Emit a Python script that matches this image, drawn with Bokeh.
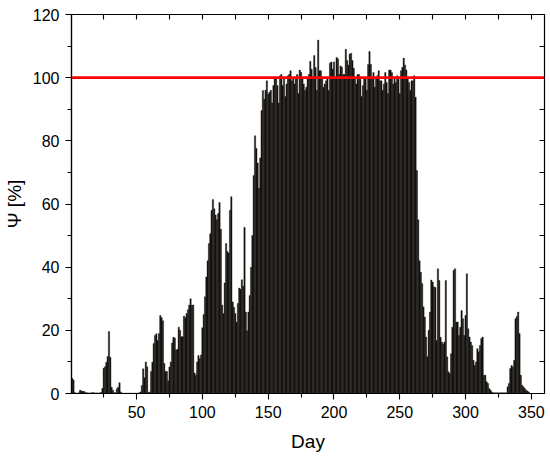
from bokeh.plotting import figure
from bokeh.models import Range1d, LinearAxis, Span, FixedTicker
from bokeh.embed import file_html
from bokeh.resources import INLINE

# Day-by-day values of Psi [%] (day 1 .. 365)
psi_days_1_60 = [
    4.8, 4.3, 0.3, 0.1, 0.1, 0.2, 1.0, 0.9, 0.6, 0.7,
    0.4, 0.2, 0.2, 0.1, 0.2, 0.2, 0.3, 0.2, 0.1, 0.2,
    0.1, 0.2, 0.3, 1.6, 8.0, 8.5, 9.9, 11.7, 19.6, 11.5,
    2.0, 1.0, 0.3, 0.2, 1.5, 2.0, 3.4, 0.5, 0.1, 0.1,
    0.1, 0.1, 0.1, 0.1, 0.1, 0.1, 0.1, 0.1, 0.1, 0.1,
    0.1, 0.2, 0.5, 2.5, 7.8, 5.0, 10.0, 8.5, 0.3, 0.5,
]
psi_days_61_120 = [
    7.0, 9.9, 15.8, 18.4, 18.9, 16.8, 19.0, 24.7, 24.0, 23.0,
    9.5, 7.0, 7.0, 4.0, 8.4, 10.0, 16.0, 17.8, 17.6, 13.8,
    14.0, 21.0, 20.0, 18.0, 18.0, 24.5, 24.0, 25.3, 26.5, 28.0,
    30.0, 28.0, 28.0, 6.5, 5.8, 10.0, 12.0, 11.0, 12.2, 20.8,
    25.0, 30.6, 36.9, 42.0, 47.5, 50.6, 58.0, 61.4, 58.5, 56.5,
    55.0, 57.0, 60.5, 52.0, 28.0, 25.3, 35.0, 47.5, 45.0, 44.5,
]
psi_days_121_180 = [
    58.0, 62.3, 29.0, 27.3, 25.3, 22.6, 28.5, 33.4, 33.0, 36.0,
    34.0, 52.6, 25.8, 19.9, 25.8, 31.0, 40.0, 50.0, 69.0, 81.6,
    77.6, 73.0, 65.0, 74.6, 89.6, 95.9, 93.2, 96.0, 99.0, 94.8,
    95.4, 96.0, 92.0, 97.5, 99.6, 99.6, 97.5, 92.0, 100.6, 101.0,
    97.5, 99.6, 94.0, 98.0, 100.6, 101.0, 102.2, 99.0, 99.6, 98.0,
    100.0, 101.0, 95.0, 102.4, 101.7, 99.6, 98.0, 96.0, 97.0, 99.6,
]
psi_days_181_240 = [
    101.0, 105.2, 102.7, 99.6, 107.0, 103.2, 96.0, 111.9, 102.2, 102.2,
    99.8, 97.0, 98.0, 99.0, 100.0, 96.0, 104.6, 105.0, 102.7, 105.0,
    100.0, 106.4, 106.0, 101.0, 103.7, 103.3, 101.0, 101.0, 109.0, 105.4,
    104.0, 107.5, 107.7, 105.4, 103.0, 100.0, 98.0, 101.0, 101.0, 99.5,
    94.0, 97.5, 100.0, 100.0, 96.0, 104.2, 108.3, 104.2, 99.5, 101.6,
    97.0, 100.0, 100.6, 102.2, 99.0, 99.0, 96.0, 98.0, 101.6, 98.5,
]
psi_days_241_300 = [
    95.0, 102.4, 102.4, 101.6, 98.0, 100.0, 98.5, 100.6, 99.5, 95.0,
    102.2, 103.2, 106.2, 104.0, 102.4, 100.0, 98.5, 96.0, 99.0, 99.0,
    100.6, 93.8, 70.6, 55.0, 42.0, 38.4, 34.8, 27.4, 24.2, 17.9,
    11.6, 20.0, 25.8, 35.9, 35.3, 33.8, 33.6, 16.8, 39.5, 35.8,
    17.8, 16.3, 15.6, 16.3, 35.8, 11.6, 6.9, 6.3, 12.6, 21.0,
    39.0, 39.5, 22.6, 22.6, 18.4, 21.0, 26.3, 23.7, 18.4, 24.7,
]
psi_days_301_365 = [
    37.9, 20.5, 17.9, 16.3, 15.2, 10.5, 8.9, 10.0, 14.2, 13.2,
    15.2, 17.4, 17.9, 5.8, 5.8, 3.7, 3.2, 1.6, 1.1, 0.5,
    0.2, 0.2, 0.2, 0.2, 0.2, 0.2, 0.2, 0.2, 0.2, 0.2,
    0.2, 2.1, 3.2, 7.9, 8.9, 8.4, 10.5, 23.7, 24.4, 25.8,
    19.0, 5.8, 2.6, 2.1, 1.6, 1.1, 0.8, 0.5, 0.0, 0.0,
    0.0, 0.0, 0.0, 0.0, 0.0, 0.0, 0.0, 0.0, 0.0, 0.0,
    0.0, 0.0, 0.0, 0.0, 0.0,
]
psi = (psi_days_1_60 + psi_days_61_120 + psi_days_121_180 +
       psi_days_181_240 + psi_days_241_300 + psi_days_301_365)
days = list(range(1, len(psi) + 1))

reference_level = 100
x_ticks = [50, 100, 150, 200, 250, 300, 350]
x_minor = [25, 75, 125, 175, 225, 275, 325]
y_ticks = [0, 20, 40, 60, 80, 100, 120]
y_minor = [10, 30, 50, 70, 90, 110]

FONT = "Liberation Sans"

p = figure(
    frame_width=473, frame_height=379,
    x_range=Range1d(0.5, 360), y_range=Range1d(0, 120),
    output_backend="svg", toolbar_location=None,
    min_border_left=68, min_border_right=8, min_border_top=14, min_border_bottom=58,
    background_fill_color="white", border_fill_color="white",
)
p.grid.visible = False
p.outline_line_color = "black"
p.outline_line_width = 1.2

p.vbar(x=days, top=psi, width=1.0, bottom=0,
       fill_color="#120f0c", line_color="#1c1815", line_width=0.4)

p.add_layout(Span(location=reference_level, dimension="width",
                  line_color="#ff0000", line_width=2.6))

def style_main(ax, ticks, minor):
    ax.ticker = FixedTicker(ticks=ticks, minor_ticks=minor)
    ax.axis_line_color = "black"
    ax.axis_line_width = 1.2
    ax.major_tick_line_color = "black"
    ax.minor_tick_line_color = "black"
    ax.major_tick_line_width = 1.1
    ax.minor_tick_line_width = 1.1
    ax.major_tick_in = 0
    ax.major_tick_out = 6
    ax.minor_tick_in = 0
    ax.minor_tick_out = 4
    ax.major_label_text_font = FONT
    ax.major_label_text_font_size = "16px"
    ax.major_label_text_color = "black"
    ax.axis_label_text_font = FONT
    ax.axis_label_text_font_style = "normal"
    ax.axis_label_text_color = "black"

xa = p.xaxis[0]
style_main(xa, x_ticks, x_minor)
xa.axis_label = "Day"
xa.axis_label_text_font_size = "19px"
xa.major_label_standoff = 6
xa.axis_label_standoff = 10

ya = p.yaxis[0]
style_main(ya, y_ticks, y_minor)
ya.axis_label = "Ψ [%]"
ya.axis_label_text_font_size = "19px"
ya.major_label_standoff = 6
ya.axis_label_standoff = 5

def mirror(loc, ticks, minor):
    ax = LinearAxis(ticker=FixedTicker(ticks=ticks, minor_ticks=minor))
    ax.major_label_overrides = {t: "" for t in ticks}
    ax.major_label_standoff = 0
    ax.axis_line_color = "black"
    ax.major_tick_line_color = "black"
    ax.minor_tick_line_color = "black"
    ax.major_tick_line_width = 1.1
    ax.minor_tick_line_width = 1.1
    ax.major_tick_in = 5
    ax.major_tick_out = 0
    ax.minor_tick_in = 5
    ax.minor_tick_out = 0
    p.add_layout(ax, loc)

mirror("above", x_ticks, x_minor)
mirror("right", y_ticks, y_minor)

open("out.html", "w").write(file_html(p, INLINE))
